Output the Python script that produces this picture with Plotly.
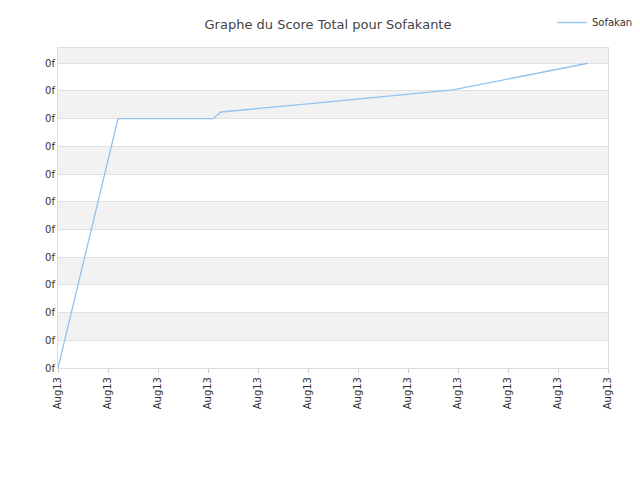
import plotly.graph_objects as go

# x positions are in tick units (one tick per "Aug13" label)
x_vals = [0, 1.2, 3.1, 3.26, 5.0, 7.9, 10.6]
score = [0, 9, 9, 9.24, 9.53, 10.04, 11]
x_ticks = list(range(12))
x_labels = ["Aug13"] * 12
y_ticks = list(range(12))
y_labels = ["0f"] * 12

fig = go.Figure()
fig.add_trace(go.Scatter(x=x_vals, y=score, mode="lines", name="Sofakante",
                         line=dict(color="#90c3f0", width=1.3)))

# alternating background bands
for lo in [1, 3, 5, 7, 9, 11]:
    hi = min(lo + 1, 11.55)
    fig.add_hrect(y0=lo, y1=hi, fillcolor="#f2f2f2", line_width=0, layer="below")

fig.update_layout(
    width=640, height=480,
    title=dict(text="Graphe du Score Total pour Sofakante", x=0.5, y=0.975,
               font=dict(size=13, color="#444")),
    font=dict(family="DejaVu Sans", size=10, color="#333"),
    plot_bgcolor="white", paper_bgcolor="white",
    margin=dict(l=50, r=40, t=40, b=120, autoexpand=False),
    showlegend=True,
    legend=dict(x=1.0, y=1.0, xref="container", yref="container",
                xanchor="right", yanchor="top", font=dict(size=10)),
    xaxis=dict(range=[0, 11], tickvals=x_ticks, ticktext=x_labels, tickangle=-90,
               showgrid=False, zeroline=False, showline=True, linecolor="#ddd",
               mirror=True, ticks="outside", tickcolor="#ccc", ticklen=4,
               automargin=False),
    yaxis=dict(range=[0, 11.55], tickvals=y_ticks, ticktext=y_labels,
               showgrid=True, gridcolor="#e0e0e0", zeroline=False, showline=True,
               linecolor="#ddd", mirror=True, automargin=False),
)

fig.write_html("out.html")
